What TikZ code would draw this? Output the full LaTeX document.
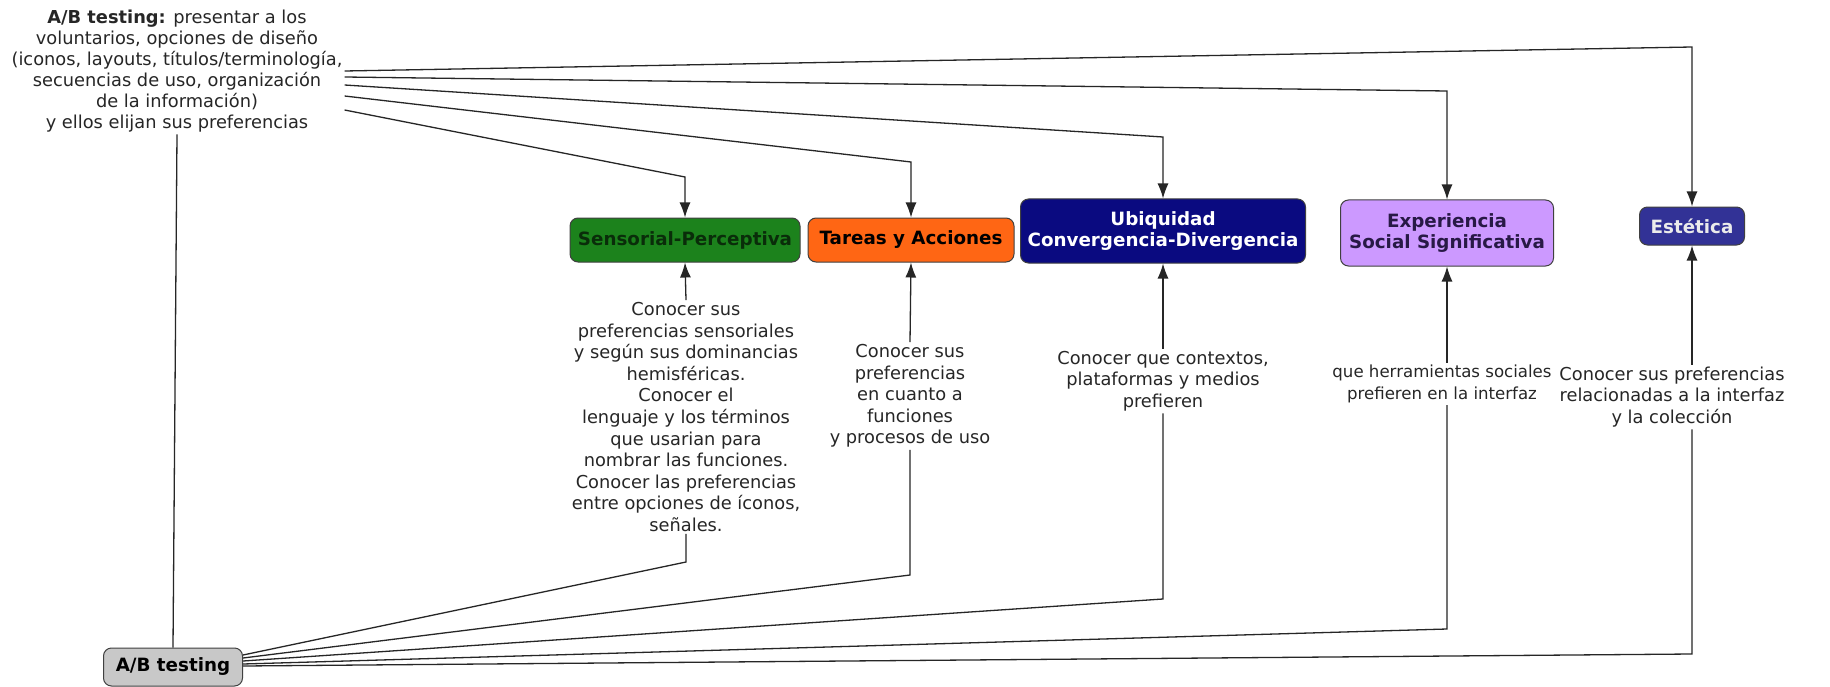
\documentclass[tikz,border=0pt]{standalone}
\usepackage{fontspec}
\setmainfont{DejaVu Sans}
\usetikzlibrary{arrows.meta}
\definecolor{cSens}{RGB}{28,130,28}
\definecolor{cSensT}{RGB}{10,45,10}
\definecolor{cTar}{RGB}{255,102,20}
\definecolor{cUbi}{RGB}{10,10,128}
\definecolor{cExp}{RGB}{204,153,255}
\definecolor{cExpT}{RGB}{40,25,70}
\definecolor{cEst}{RGB}{50,50,150}
\definecolor{cAB}{RGB}{200,200,200}
\begin{document}
\begin{tikzpicture}[x=1pt,y=-1pt,
  box/.style={draw=black!75, line width=1pt, rounded corners=8pt, align=center,
    inner sep=4pt, font=\fontsize{18.3}{21}\selectfont\bfseries},
  phrase/.style={align=center, inner sep=2pt, text=black!85,
    font=\fontsize{17.8}{21.6}\selectfont},
  link/.style={draw=black!85, line width=1.3pt},
  arr/.style={link, -{Latex[length=15pt,width=11pt]}}]
\fill[white] (0,0) rectangle (1830,687);
\useasboundingbox (0,0) rectangle (1830,687);

% concepts
\node[box, fill=cSens, text=cSensT, minimum width=230pt, minimum height=44pt] (sens) at (685,240) {Sensorial-Perceptiva};
\node[box, fill=cTar, text=black, minimum width=206pt, minimum height=44pt] (tar) at (911,240) {Tareas y Acciones};
\node[box, fill=cUbi, text=white, minimum width=285pt, minimum height=64pt] (ubi) at (1163,231) {Ubiquidad\\Convergencia-Divergencia};
\node[box, fill=cExp, text=cExpT, minimum width=213pt, minimum height=66pt] (exp) at (1447,233) {Experiencia\\Social Significativa};
\node[box, fill=cEst, text=white!92!black, minimum width=105pt, minimum height=38pt] (est) at (1692,226) {Estética};
\node[box, fill=cAB, text=black, minimum width=139pt, minimum height=38pt] (ab) at (173,667) {A/B testing};

% linking phrases
\node[phrase, font=\fontsize{17.8}{21}\selectfont] (top) at (177,71)
  {\textbf{A/B testing:} presentar a los\\voluntarios, opciones de diseño\\(iconos, layouts, títulos/terminología,\\secuencias de uso, organización\\de la información)\\y ellos elijan sus preferencias};
\node[phrase] (sensT) at (686,417)
  {Conocer sus\\preferencias sensoriales\\y según sus dominancias\\hemisféricas.\\Conocer el\\lenguaje y los términos\\que usarian para\\nombrar las funciones.\\Conocer las preferencias\\entre opciones de íconos,\\señales.};
\node[phrase] (tarT) at (910,396)
  {Conocer sus\\preferencias\\en cuanto a\\funciones\\y procesos de uso};
\node[phrase] (ubiT) at (1163,381)
  {Conocer que contextos,\\plataformas y medios\\prefieren};
\node[phrase, font=\fontsize{16.6}{21.6}\selectfont] (expT) at (1442,384)
  {que herramientas sociales\\prefieren en la interfaz};
\node[phrase] (estT) at (1672,397)
  {Conocer sus preferencias\\relacionadas a la interfaz\\y la colección};

% elbows above the concepts
\coordinate (uS) at (sens.north |- 0,177);
\coordinate (uT) at (tar.north |- 0,162);
\coordinate (uU) at (ubi.north |- 0,137);
\coordinate (uX) at (exp.north |- 0,91);
\coordinate (uE) at (est.north |- 0,47);
% elbows below the phrases
\coordinate (dS) at (sensT.south |- 0,562);
\coordinate (dT) at (tarT.south |- 0,575);
\coordinate (dU) at (ubiT.south |- 0,599);
\coordinate (dX) at (exp.south |- 0,629);
\coordinate (dE) at (est.south |- 0,654);

% A/B testing to the shared phrase
\draw[link] (top.south) -- (ab.north);
\draw[arr] ([yshift=-39pt]top.east) -- (uS) -- (sens.north);
\draw[arr] ([yshift=-25pt]top.east) -- (uT) -- (tar.north);
\draw[arr] ([yshift=-14pt]top.east) -- (uU) -- (ubi.north);
\draw[arr] ([yshift=-6pt]top.east) -- (uX) -- (exp.north);
\draw[arr] ([yshift=0pt]top.east) -- (uE) -- (est.north);

% A/B testing to each specific phrase
\draw[link] ([yshift=12pt]ab.east) -- (dS) -- (sensT.south);
\draw[link] ([yshift=9pt]ab.east) -- (dT) -- (tarT.south);
\draw[link] ([yshift=6pt]ab.east) -- (dU) -- (ubiT.south);
\draw[link] ([yshift=3pt]ab.east) -- (dX) -- (dX |- expT.south);
\draw[link] ([yshift=1pt]ab.east) -- (dE) -- (dE |- estT.south);

% phrases up to their concepts
\draw[arr] (sensT.north) -- (sens.south);
\draw[arr] (tarT.north) -- (tar.south);
\draw[arr] (ubiT.north) -- (ubi.south);
\draw[arr] (exp.south |- expT.north) -- (exp.south);
\draw[arr] (est.south |- estT.north) -- (est.south);
\end{tikzpicture}
\end{document}
